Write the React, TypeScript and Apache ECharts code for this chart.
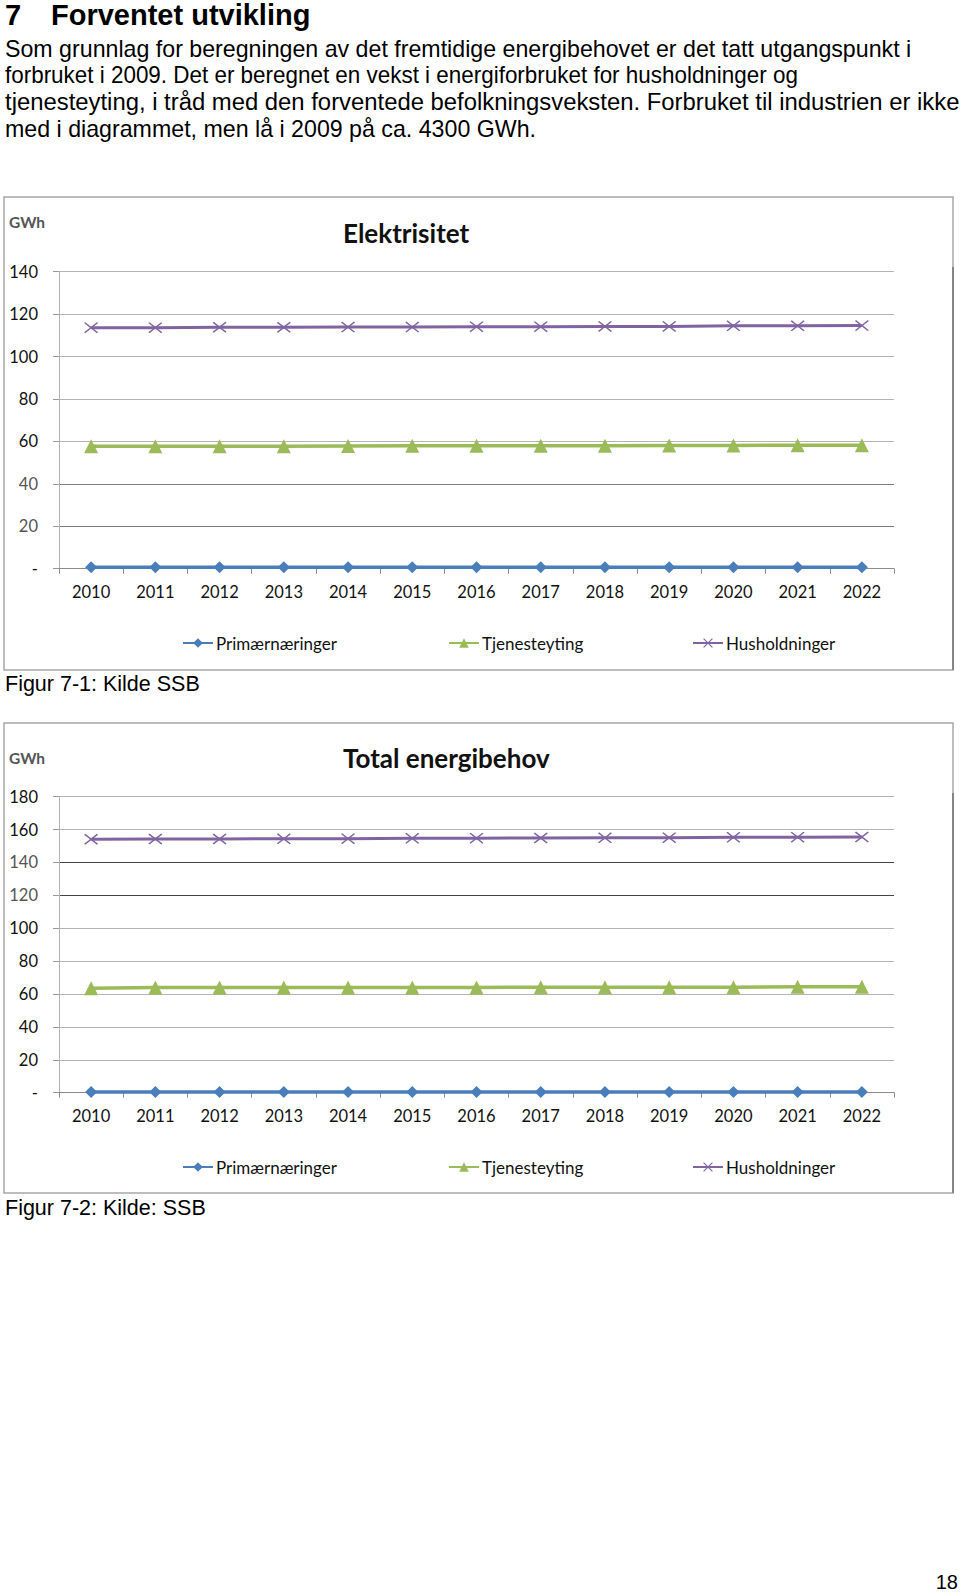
import React, { useEffect, useRef } from "react";
import * as echarts from "echarts";

// ---------- data ----------
const years = ["2010", "2011", "2012", "2013", "2014", "2015", "2016", "2017", "2018", "2019", "2020", "2021", "2022"];
const seriesNames = ["Primærnæringer", "Tjenesteyting", "Husholdninger"];

// Elektrisitet (GWh)
const elPrimaer = [0.7, 0.7, 0.7, 0.7, 0.7, 0.7, 0.7, 0.7, 0.7, 0.7, 0.7, 0.7, 0.7];
const elTjeneste = [57.7, 57.7, 57.7, 57.7, 57.8, 57.9, 57.9, 58.0, 58.0, 58.1, 58.1, 58.2, 58.2];
const elHus = [113.6, 113.6, 113.8, 113.8, 113.9, 113.9, 114.1, 114.1, 114.2, 114.2, 114.5, 114.5, 114.6];

// Total energibehov (GWh)
const totPrimaer = [0.5, 0.5, 0.5, 0.5, 0.5, 0.5, 0.5, 0.5, 0.5, 0.5, 0.5, 0.5, 0.5];
const totTjeneste = [63.5, 63.9, 63.9, 63.9, 63.9, 64.0, 64.0, 64.1, 64.1, 64.2, 64.2, 64.4, 64.5];
const totHus = [154.1, 154.3, 154.3, 154.4, 154.5, 154.7, 154.8, 154.9, 155.0, 155.1, 155.3, 155.4, 155.5];

const elYMax = 140;
const totYMax = 180;
const yInterval = 20;

// ---------- texts ----------
const headingNumber = "7";
const headingText = "Forventet utvikling";
const bodyLines = [
  "Som grunnlag for beregningen av det fremtidige energibehovet er det tatt utgangspunkt i",
  "forbruket i 2009. Det er beregnet en vekst i energiforbruket for husholdninger og",
  "tjenesteyting, i tråd med den forventede befolkningsveksten. Forbruket til industrien er ikke",
  "med i diagrammet, men lå i 2009 på ca. 4300 GWh.",
];
const chartTitles = ["Elektrisitet", "Total energibehov"];
const unitLabel = "GWh";
const captions = ["Figur 7-1: Kilde SSB", "Figur 7-2: Kilde: SSB"];
const pageNumber = "18";

// ---------- styling ----------
const COLORS = ["#4a7ebb", "#9bbb59", "#8064a2"];
const CHART_FONT = "Lato";
const PAGE_FONT = "'Liberation Sans', Arial, sans-serif";
const CROSS = "path://M0,1L1,0L6,5L11,0L12,1L7,6L12,11L11,12L6,7L1,12L0,11L5,6Z";
const SYMBOLS = ["diamond", "triangle", CROSS];
const SYMBOL_SIZES: any[] = [12, 14, [14, 11]];
const BODY_Y = [48.7, 75.3, 101.9, 128.5];
const BODY_SCALE = [1, 0.967, 1.029, 1];

const gridDefs = [
  { top: 271.7, height: 297, max: elYMax, dark: [20, 40], darkColor: "#7d7d7d", frameY: 197, frameH: 473, titleY: 232.7, unitY: 222, legendTop: 634.5, captionY: 683.5 },
  { top: 796.7, height: 296, max: totYMax, dark: [120, 140], darkColor: "#454545", frameY: 723, frameH: 470, titleY: 757.7, unitY: 758, legendTop: 1158.5, captionY: 1207.5 },
];
const seriesData = [
  [elPrimaer, elTjeneste, elHus],
  [totPrimaer, totTjeneste, totHus],
];
const legendLefts = [182, 448, 692];

function buildOption() {
  const grid: any[] = [];
  const xAxis: any[] = [];
  const yAxis: any[] = [];
  const series: any[] = [];
  const legend: any[] = [];
  const graphic: any[] = [];

  gridDefs.forEach((g, gi) => {
    grid.push({ left: 59, top: g.top, width: 835, height: g.height, containLabel: false });
    xAxis.push({
      gridIndex: gi,
      type: "category",
      data: years,
      boundaryGap: true,
      axisLine: { show: true, lineStyle: { color: "#8c8c8c", width: 1 } },
      axisTick: { show: true, length: 5, alignWithLabel: false, lineStyle: { color: "#8c8c8c" } },
      axisLabel: { margin: 15, fontSize: 16.5, fontFamily: CHART_FONT, color: "#111" },
      splitLine: { show: false },
    });
    const nLines = g.max / yInterval + 1;
    const lineColors: string[] = [];
    for (let i = 0; i < nLines; i++) {
      lineColors.push(g.dark.indexOf(i * yInterval) >= 0 ? g.darkColor : "#b4b4b4");
    }
    yAxis.push({
      gridIndex: gi,
      type: "value",
      min: 0,
      max: g.max,
      interval: yInterval,
      axisLine: { show: true, lineStyle: { color: "#b4b4b4", width: 1 } },
      axisTick: { show: true, length: 6, lineStyle: { color: "#9a9a9a" } },
      splitLine: { show: true, lineStyle: { color: lineColors, width: 1.2 } },
      axisLabel: {
        margin: 21,
        fontSize: 16.5,
        fontFamily: CHART_FONT,
        color: (v: any) => (g.dark.indexOf(Number(v)) >= 0 ? "#555" : "#111"),
        formatter: (v: number) => (v === 0 ? "-" : String(v)),
      },
    });
    seriesNames.forEach((name, si) => {
      series.push({
        name,
        type: "line",
        xAxisIndex: gi,
        yAxisIndex: gi,
        data: seriesData[gi][si],
        symbol: SYMBOLS[si],
        symbolSize: SYMBOL_SIZES[si],
        showSymbol: true,
        lineStyle: { color: COLORS[si], width: si === 2 ? 3 : 3.5 },
        itemStyle: { color: COLORS[si] },
        z: 3 + si,
      });
      legend.push({
        data: [name],
        left: legendLefts[si],
        top: g.legendTop,
        itemWidth: 30,
        itemHeight: 12,
        itemGap: 0,
        selectedMode: false,
        padding: 0,
        textStyle: { fontSize: 17, fontFamily: CHART_FONT, color: "#111", padding: [0, 0, 0, -2] },
      });
    });

    // frame
    graphic.push({
      type: "rect",
      shape: { x: 4, y: g.frameY, width: 949, height: g.frameH },
      style: { fill: "none", stroke: "#a8a8a8", lineWidth: 1.5 },
      silent: true,
      z: 0,
    });
    graphic.push({
      type: "line",
      shape: { x1: 953, y1: g.frameY + 70, x2: 953, y2: g.frameY + g.frameH },
      style: { stroke: "#858585", lineWidth: 2 },
      silent: true,
    });
    graphic.push({
      type: "text",
      x: 343,
      y: g.titleY,
      style: { text: chartTitles[gi], font: `bold 26px ${CHART_FONT}`, fill: "#111", verticalAlign: "middle", align: "left" },
    });
    graphic.push({
      type: "text",
      x: 9,
      y: g.unitY,
      style: { text: unitLabel, font: `bold 15.5px ${CHART_FONT}`, fill: "#555", verticalAlign: "middle", align: "left" },
    });
    graphic.push({
      type: "text",
      x: 5,
      y: g.captionY,
      style: { text: captions[gi], font: `21.5px ${PAGE_FONT}`, fill: "#000", verticalAlign: "middle", align: "left" },
    });
  });

  // heading and body text
  graphic.push({
    type: "text",
    x: 5,
    y: 15,
    style: { text: headingNumber, font: `bold 29px ${PAGE_FONT}`, fill: "#000", verticalAlign: "middle", align: "left" },
  });
  graphic.push({
    type: "text",
    x: 51,
    y: 15,
    style: { text: headingText, font: `bold 29px ${PAGE_FONT}`, fill: "#000", verticalAlign: "middle", align: "left" },
  });
  bodyLines.forEach((line, i) => {
    graphic.push({
      type: "text",
      x: 5,
      y: BODY_Y[i],
      scaleX: BODY_SCALE[i],
      style: { text: line, font: `23.2px ${PAGE_FONT}`, fill: "#000", verticalAlign: "middle", align: "left" },
    });
  });
  graphic.push({
    type: "text",
    x: 958,
    y: 1582,
    style: { text: pageNumber, font: `20px ${PAGE_FONT}`, fill: "#000", verticalAlign: "middle", align: "right" },
  });

  return {
    animation: false,
    backgroundColor: "#ffffff",
    grid,
    xAxis,
    yAxis,
    series,
    legend,
    graphic,
  };
}

export default function App() {
  const ref = useRef<HTMLDivElement | null>(null);
  useEffect(() => {
    if (!ref.current) return;
    const chart = echarts.init(ref.current, undefined, { renderer: "svg" });
    chart.setOption(buildOption() as any);
    return () => {
      chart.dispose();
    };
  }, []);
  return (
    <div
      ref={ref}
      style={{ position: "absolute", left: 0, top: 0, width: 960, height: 1592, background: "#fff" }}
    />
  );
}
